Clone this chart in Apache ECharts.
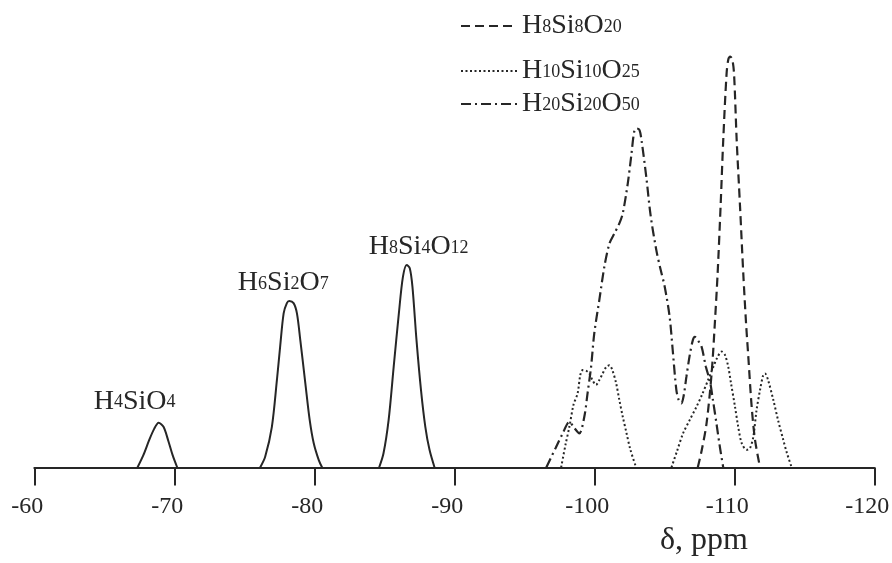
<!DOCTYPE html>
<html><head><meta charset="utf-8">
<script src="https://cdn.jsdelivr.net/npm/echarts/dist/echarts.min.js"></script>
<style>html,body{margin:0;padding:0;background:#fff}#c{width:892px;height:563px}</style>
</head><body><div id="c"></div>
<script>
// ---- x axis ticks (chemical shift, ppm) ----
const xTicks = [-60, -70, -80, -90, -100, -110, -120];

// ---- solid peaks (monomer, dimer, cyclic tetramer) ----
const h4sio4Ppm = [-67.37, -67.79, -68.21, -68.56, -68.88, -69.23, -69.58, -69.88, -70.21];
const h4sio4Int = [0, 3.0, 6.7, 9.4, 10.9, 9.9, 6.4, 3.0, 0];

const h6si2o7Ppm = [-76.13, -76.49, -76.97, -77.33, -77.56, -77.81, -78.04, -78.21, -78.52, -78.76, -79.00, -79.36, -79.67, -79.96, -80.32, -80.56];
const h6si2o7Int = [0, 2.6, 9.9, 21.3, 29.4, 37.5, 40.0, 40.5, 40.0, 37.5, 31.0, 20.5, 11.6, 5.9, 1.8, 0];

const h8si4o12Ppm = [-84.63, -84.94, -85.31, -85.67, -86.04, -86.33, -86.60, -86.82, -87.01, -87.30, -87.62, -87.93, -88.23, -88.59];
const h8si4o12Int = [0, 3.4, 11.6, 24.5, 37.5, 46.4, 49.3, 48.5, 44.0, 31.0, 18.9, 9.9, 4.3, 0];

// ---- dashed: H8Si8O20 ----
const h8si8o20Ppm = [-107.39, -107.68, -108.02, -108.38, -108.61, -108.81, -109.02, -109.21, -109.45, -109.58, -109.71, -109.85, -109.98, -110.17, -110.41, -110.64, -110.84, -111.00, -111.24, -111.48, -111.84];
const h8si8o20Int = [0, 4.3, 10.8, 22.9, 35.1, 47.3, 63.5, 79.7, 95.9, 99.4, 100, 99.4, 95.9, 79.7, 63.5, 47.3, 35.1, 27.0, 14.8, 6.7, 0];

// ---- dotted: H10Si10O25 (two bands) ----
const h10aPpm = [-97.63, -97.94, -98.22, -98.51, -98.81, -99.00, -99.17, -99.43, -99.64, -99.86, -100.12, -100.36, -100.60, -100.86, -101.08, -101.29, -101.56, -101.79, -102.03, -102.30, -102.58, -102.99];
const h10aInt = [0, 5.5, 9.9, 15.2, 18.1, 22.5, 23.7, 23.5, 22.9, 21.3, 20.1, 21.3, 22.9, 24.5, 24.9, 23.7, 20.5, 16.4, 12.4, 8.4, 4.3, 0];
const h10bPpm = [-105.51, -105.89, -106.34, -106.82, -107.30, -107.68, -108.13, -108.47, -108.76, -109.10, -109.33, -109.57, -109.76, -110.05, -110.26, -110.53, -110.89, -111.12, -111.36, -111.59, -111.84, -112.05, -112.19, -112.41, -112.79, -113.12, -113.50, -113.76, -114.10];
const h10bInt = [0, 3.8, 8.3, 11.6, 14.8, 17.6, 21.3, 24.2, 26.6, 28.2, 27.4, 24.5, 20.6, 14.8, 10.3, 5.9, 4.3, 4.7, 7.5, 14.0, 18.9, 22.3, 22.9, 21.3, 16.4, 11.6, 6.7, 3.5, 0];

// ---- dash-dot: H20Si20O50 ----
const h20Ppm = [-96.57, -97.23, -97.73, -98.22, -98.58, -98.93, -99.29, -99.52, -99.77, -100.00, -100.36, -100.72, -101.08, -101.44, -101.79, -102.03, -102.39, -102.63, -102.87, -103.04, -103.23, -103.37, -103.71, -104.02, -104.43, -104.74, -105.03, -105.38, -105.60, -105.86, -106.03, -106.22, -106.39, -106.58, -106.82, -107.04, -107.18, -107.39, -107.66, -107.97, -108.26, -108.47, -108.74, -108.97, -109.21];
const h20Int = [0, 4.7, 8.2, 11.1, 9.6, 8.3, 12.4, 18.1, 24.5, 32.7, 40.8, 48.9, 54.5, 57.0, 59.4, 61.8, 69.1, 75.6, 82.1, 82.5, 82.1, 79.7, 70.8, 61.4, 52.9, 48.1, 44.0, 36.7, 28.6, 18.9, 16.4, 15.6, 17.6, 22.1, 27.4, 31.0, 31.8, 31.0, 29.4, 24.5, 21.0, 16.5, 10.4, 5.0, 0];

// ---- text ----
const legendNames = ['H8Si8O20', 'H10Si10O25', 'H20Si20O50'];
const peakLabels = ['H4SiO4', 'H6Si2O7', 'H8Si4O12'];
const axisTitle = 'δ, ppm';

const FONT = "'Liberation Serif', 'Times New Roman', serif";
const INK = '#262626';

function pairs(p, v) { return p.map((x, i) => [x, v[i]]); }
function joinGroups(groups) {
  const out = [];
  groups.forEach((g, i) => { if (i) out.push([null, null]); g.forEach(d => out.push(d)); });
  return out;
}
function richFormula(str) {
  return str.replace(/([^0-9]+)|([0-9]+)/g, (m, a, b) => a ? '{n|' + a + '}' : '{s|' + b + '}');
}

const solidGroups = [pairs(h4sio4Ppm, h4sio4Int), pairs(h6si2o7Ppm, h6si2o7Int), pairs(h8si4o12Ppm, h8si4o12Int)];

const richOpt = {
  n: { fontFamily: FONT, fontSize: 28, color: INK, verticalAlign: 'bottom' },
  s: { fontFamily: FONT, fontSize: 18, color: INK, verticalAlign: 'bottom', padding: [0, 0, 4, 0] }
};
const legendTops = [12, 57, 90];

const chart = echarts.init(document.getElementById('c'));
chart.setOption({
  backgroundColor: '#ffffff',
  animation: false,
  grid: { left: 34.3, right: 17.7, top: 15.5, bottom: 95.5, containLabel: false, outerBoundsMode: 'none' },
  xAxis: {
    type: 'value', min: xTicks[xTicks.length - 1], max: xTicks[0], interval: 10, inverse: true,
    axisLine: { show: true, onZero: false, lineStyle: { color: INK, width: 2 } },
    axisTick: { show: true, length: 18, lineStyle: { color: INK, width: 2 } },
    axisLabel: { color: INK, fontFamily: FONT, fontSize: 24, margin: 27, padding: [0, 14, 0, 0], formatter: v => String(v) },
    splitLine: { show: false }
  },
  yAxis: { type: 'value', min: 0, max: 110, show: false },
  legend: legendNames.map((name, i) => ({
    show: true, data: [name], left: 460, top: legendTops[i], itemWidth: 56, itemHeight: 14,
    padding: 0, selectedMode: false,
    itemStyle: { opacity: 0 },
    formatter: richFormula,
    textStyle: { color: INK, fontFamily: FONT, fontSize: 28, rich: richOpt }
  })),
  series: [
    { name: 'solid', type: 'line', data: joinGroups(solidGroups), showSymbol: false, symbol: 'none', smooth: 0.3,
      connectNulls: false, lineStyle: { color: INK, width: 2 }, itemStyle: { color: INK } },
    { name: legendNames[0], type: 'line', data: pairs(h8si8o20Ppm, h8si8o20Int), symbol: 'none', smooth: 0.3,
      lineStyle: { color: INK, width: 2.2, type: [9, 5] }, itemStyle: { color: INK } },
    { name: legendNames[1], type: 'line', data: joinGroups([pairs(h10aPpm, h10aInt), pairs(h10bPpm, h10bInt)]), symbol: 'none', smooth: 0.3,
      connectNulls: false, lineStyle: { color: INK, width: 2, type: [2, 2.5] }, itemStyle: { color: INK } },
    { name: legendNames[2], type: 'line', data: pairs(h20Ppm, h20Int), symbol: 'none', smooth: 0.3,
      lineStyle: { color: INK, width: 2.2, type: [10, 4, 2, 4] }, itemStyle: { color: INK } }
  ]
});

// peak labels anchored above each solid peak maximum
const peakOffsets = [[-24, -21], [-6, -18], [12, -18]];
const graphics = solidGroups.map((g, i) => {
  const top = g.reduce((a, b) => (b[1] > a[1] ? b : a));
  const p = chart.convertToPixel({ gridIndex: 0 }, top);
  return {
    type: 'text', x: p[0] + peakOffsets[i][0], y: p[1] + peakOffsets[i][1],
    style: {
      text: richFormula(peakLabels[i]), align: 'center', verticalAlign: 'middle',
      font: '28px ' + FONT, fill: INK,
      rich: {
        n: { fontFamily: FONT, fontSize: 28, fill: INK, verticalAlign: 'bottom' },
        s: { fontFamily: FONT, fontSize: 18, fill: INK, verticalAlign: 'bottom', padding: [0, 0, 4, 0] }
      }
    }
  };
});
graphics.push({
  type: 'text', x: 704, y: 541,
  style: { text: axisTitle, align: 'center', verticalAlign: 'middle', font: '32px ' + FONT, fill: INK }
});
chart.setOption({ graphic: graphics });
</script></body></html>
